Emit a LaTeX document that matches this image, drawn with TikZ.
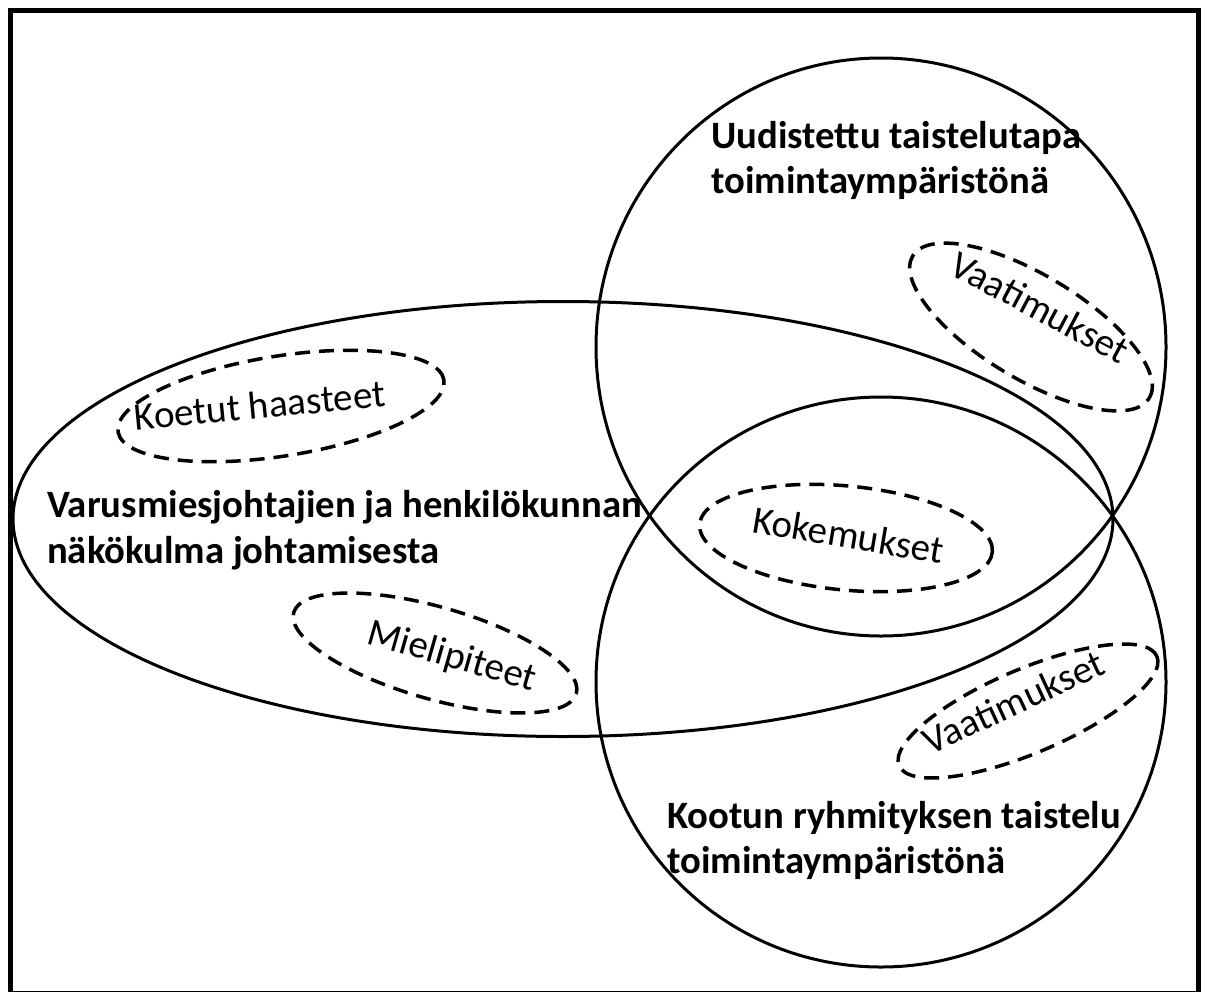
\documentclass[tikz,border=0pt]{standalone}
\usepackage{fontspec}
\setmainfont{Carlito}
\usetikzlibrary{shapes.geometric}
\tikzset{
  frameline/.style={line width=5pt, draw=black},
  solidell/.style={ellipse, draw=black, line width=3pt, inner sep=0pt, outer sep=0pt},
  dashell/.style={ellipse, draw=black, line width=3.5pt, dash pattern=on 15pt off 9pt, inner sep=0pt, outer sep=0pt},
  lbl/.style={font=\fontsize{39}{46}\selectfont, inner sep=0pt, anchor=base},
  boldlbl/.style={font=\fontsize{38.7}{46}\selectfont\bfseries, inner sep=0pt, anchor=base west}
}
\begin{document}
\begin{tikzpicture}[x=1pt, y=-1pt]
\useasboundingbox (0,0) rectangle (1207,991);
\fill[white] (0,0) rectangle (1207,991);
\draw[frameline] (10.5,10) rectangle (1198,993);

% large shapes
\node[solidell, minimum width=1100pt, minimum height=435pt] (viewE) at (563,519) {};
\node[solidell, minimum width=570pt, minimum height=578pt] (topC) at (881,347) {};
\node[solidell, minimum width=570pt, minimum height=570pt] (botC) at (881,682) {};

% dashed ellipses
\node[dashell, minimum width=330pt, minimum height=100pt, rotate=9] (koetutE) at (281,406) {};
\node[dashell, minimum width=294pt, minimum height=104pt, rotate=-5.5] (kokemE) at (846,538) {};
\node[dashell, minimum width=294pt, minimum height=92pt, rotate=-16] (mieliE) at (435,653) {};
\node[dashell, minimum width=276pt, minimum height=104pt, rotate=-31] (vaatTE) at (1031,327) {};
\node[dashell, minimum width=280pt, minimum height=84pt, rotate=23] (vaatBE) at (1028,711) {};

% dashed-ellipse labels
\node[lbl, rotate=5.5] (koetutT) at (261,418.5) {Koetut haasteet};
\node[lbl, rotate=-9.5] (kokemT) at (846,548) {Kokemukset};
\node[lbl, rotate=-16] (mieliT) at (449,667) {Mielipiteet};
\node[lbl, rotate=-28] (vaatTT) at (1034,319) {Vaatimukset};
\node[lbl, rotate=25] (vaatBT) at (1019,714) {Vaatimukset};

% bold titles
\node[boldlbl] (uud1) at (711,148) {Uudistettu taistelutapa};
\node[boldlbl] (uud2) at (711,193) {toimintaympäristönä};
\node[boldlbl] (var1) at (47,517) {Varusmiesjohtajien ja henkilökunnan};
\node[boldlbl] (var2) at (47,563) {näkökulma johtamisesta};
\node[boldlbl] (koo1) at (667,828) {Kootun ryhmityksen taistelu};
\node[boldlbl] (koo2) at (667,873) {toimintaympäristönä};
\end{tikzpicture}
\end{document}
